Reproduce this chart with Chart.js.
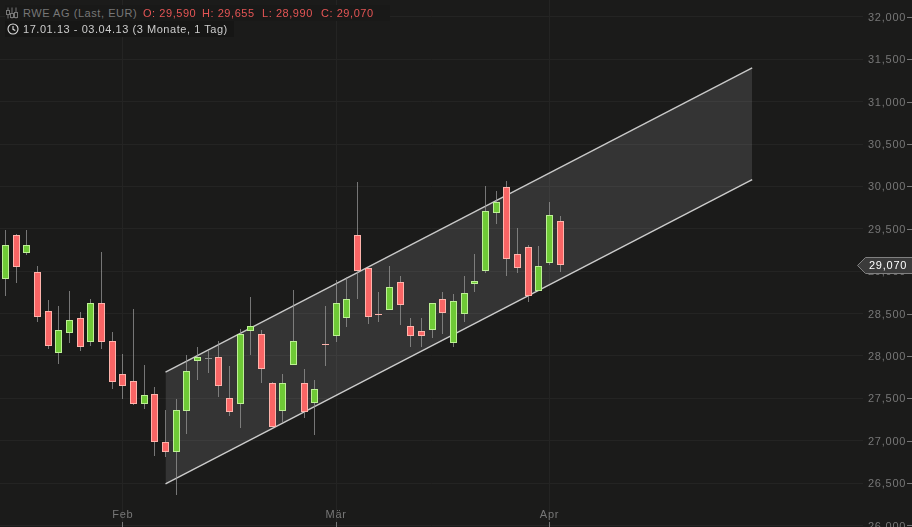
<!DOCTYPE html>
<html>
<head>
<meta charset="utf-8">
<title>RWE AG</title>
<script src="https://cdn.jsdelivr.net/npm/chart.js@4"></script>
<style>
    html, body { margin: 0; padding: 0; background: #1b1b1a; overflow: hidden; }
    #wrap { position: relative; width: 912px; height: 527px; }
    canvas { display: block; }
    .hdr { position: absolute; font: 11px "Liberation Sans", Arial, sans-serif; letter-spacing: 0.55px; line-height: 14px; white-space: nowrap; }
    .name { color: #777; }
    .ohlc { color: #e55555; }
    .range { color: #ccc; }
    #rangeBg { position: absolute; left: 5px; top: 21px; width: 229px; height: 16px; background: #161615; }
    #nameBg { position: absolute; left: 5px; top: 5px; width: 385px; height: 16px; background: #191918; }
    svg { position: absolute; }
</style>
</head>
<body>
<div id="wrap">
    <canvas id="rweChart" width="912" height="527"></canvas>
    <div id="nameBg"></div>
    <div id="rangeBg"></div>
    <svg style="left:6px;top:7px" width="12" height="12" viewBox="0 0 12 12" fill="none" stroke="#777" stroke-width="1">
        <path d="M2 0.5V11.5M6 0.5V11.5M10 0.5V11.5"/>
        <rect x="0.5" y="3.5" width="3" height="4" fill="#191918"/>
        <rect x="4.5" y="6.5" width="3" height="4" fill="#191918"/>
        <rect x="8.5" y="5.5" width="3" height="5" fill="#191918"/>
    </svg>
    <span class="hdr name" style="left:23px;top:6px">RWE AG (Last, EUR)</span>
    <span class="hdr ohlc" style="left:143px;top:6px">O: 29,590</span>
    <span class="hdr ohlc" style="left:202px;top:6px">H: 29,655</span>
    <span class="hdr ohlc" style="left:262px;top:6px">L: 28,990</span>
    <span class="hdr ohlc" style="left:321px;top:6px">C: 29,070</span>
    <svg style="left:7px;top:23px" width="12" height="12" viewBox="0 0 12 12" fill="none" stroke="#ddd" stroke-width="1.1">
        <circle cx="6" cy="6" r="5"/>
        <path d="M6 3V6.3L8.3 7.5"/>
    </svg>
    <span class="hdr range" style="left:23px;top:22px">17.01.13 - 03.04.13 (3 Monate, 1 Tag)</span>
</div>

<script>
// candles (EUR)
const opens = [
    28.910, 29.425, 29.220, 28.985, 28.525, 28.040, 28.275, 28.445, 28.170, 28.620,
    28.175, 27.785, 27.700, 27.430, 27.550, 26.980, 26.870, 27.345, 27.945, 27.960,
    27.985, 27.500, 27.430, 28.290, 28.255, 27.680, 27.345, 27.890, 27.680, 27.440,
    28.140, 28.230, 28.445, 29.425, 29.035, 28.495, 28.540, 28.870, 28.350, 28.290,
    28.305, 28.670, 28.150, 28.490, 28.845, 29.000, 29.685, 29.990, 29.200, 29.280,
    28.765, 29.095, 29.590
];
const closes = [
    29.305, 29.055, 29.305, 28.465, 28.120, 28.305, 28.420, 28.100, 28.620, 28.170,
    27.695, 27.640, 27.430, 27.535, 26.990, 26.870, 27.360, 27.820, 27.985, 27.960,
    27.650, 27.335, 28.255, 28.350, 27.845, 27.165, 27.680, 28.175, 27.335, 27.605,
    28.130, 28.620, 28.670, 29.000, 28.455, 28.480, 28.810, 28.600, 28.230, 28.230,
    28.620, 28.505, 28.645, 28.740, 28.880, 29.705, 29.815, 29.140, 29.035, 28.710,
    29.060, 29.660, 29.070
];
const highs = [
    29.485, 29.440, 29.485, 29.060, 28.660, 28.585, 28.765, 28.515, 28.670, 29.225,
    28.280, 28.025, 28.550, 27.890, 27.630, 27.365, 27.490, 28.010, 28.100, 28.070,
    28.175, 27.880, 28.315, 28.690, 28.305, 27.690, 27.785, 28.775, 27.845, 27.715,
    28.585, 28.895, 28.930, 30.050, 29.050, 28.755, 29.060, 28.940, 28.445, 28.445,
    28.625, 28.755, 28.730, 28.940, 29.200, 30.000, 29.945, 30.060, 29.505, 29.305,
    29.295, 29.815, 29.655
];
const lows = [
    28.710, 28.860, 29.195, 28.405, 28.080, 27.900, 28.155, 28.060, 28.120, 28.080,
    27.605, 27.490, 27.420, 27.370, 26.815, 26.805, 26.355, 27.075, 27.715, 27.795,
    27.510, 27.290, 27.145, 28.010, 27.680, 27.165, 27.205, 27.890, 27.265, 27.065,
    27.880, 28.170, 28.340, 28.670, 28.375, 28.395, 28.540, 28.360, 28.100, 28.100,
    28.210, 28.255, 28.110, 28.405, 28.750, 28.975, 29.555, 28.940, 28.975, 28.635,
    28.765, 29.070, 28.990
];

// hand drawn trend channel, two anchor points each
const channelX = [15, 70];
const channelUpper = [27.81, 31.40];
const channelLower = [26.49, 30.08];

const priceTicks = [26, 26.5, 27, 27.5, 28, 28.5, 29, 29.5, 30, 30.5, 31, 31.5, 32];
const monthLabels = ['Feb', 'Mär', 'Apr'];
const monthIdx = [11, 31, 51];

const fmt = v => v.toFixed(3).replace('.', ',');
const toXY = (xs, ys) => xs.map((x, i) => ({ x: x, y: ys[i] }));

const bodyFill = i => closes[i] > opens[i] ? '#6fc936' : closes[i] < opens[i] ? '#f96565' : '#8a8a8a';
const bodyEdge = i => closes[i] > opens[i] ? '#bdf095' : closes[i] < opens[i] ? '#ffb3ab' : '#8a8a8a';

// the picture has crisp candles on whole pixels
const snapCandles = {
    id: 'snapCandles',
    afterDatasetsUpdate(chart) {
        chart.data.datasets.forEach((ds, n) => {
            if (ds.type !== 'bar') return;
            chart.getDatasetMeta(n).data.forEach(el => {
                el.x = Math.floor(el.x) + 0.5;
                el.y = Math.round(el.y);
                el.base = Math.round(el.base);
            });
        });
    }
};

// tick dashes at the window edge and the last price tag
const axisMarks = {
    id: 'axisMarks',
    beforeDraw(chart) {
        chart.ctx.letterSpacing = '0.75px';
    },
    afterDraw(chart) {
        const ctx = chart.ctx;
        const yScale = chart.scales.y;
        const xScale = chart.scales.x;
        ctx.save();
        ctx.strokeStyle = '#777';
        ctx.lineWidth = 1;
        ctx.beginPath();
        priceTicks.forEach(p => {
            const y = Math.round(yScale.getPixelForValue(p)) + 0.5;
            ctx.moveTo(907, y);
            ctx.lineTo(912, y);
        });
        monthIdx.forEach(i => {
            const x = Math.floor(xScale.getPixelForValue(i)) + 0.5;
            ctx.moveTo(x, 522);
            ctx.lineTo(x, 527);
        });
        ctx.stroke();

        const last = closes[closes.length - 1];
        const yy = Math.round(yScale.getPixelForValue(last));
        ctx.beginPath();
        ctx.moveTo(857.5, yy + 0.5);
        ctx.lineTo(865.5, yy - 7.5);
        ctx.lineTo(912.5, yy - 7.5);
        ctx.lineTo(912.5, yy + 8.5);
        ctx.lineTo(865.5, yy + 8.5);
        ctx.closePath();
        ctx.fillStyle = '#3a3a3a';
        ctx.fill();
        ctx.strokeStyle = '#808080';
        ctx.stroke();
        ctx.fillStyle = '#fff';
        ctx.font = '11px "Liberation Sans"';
        ctx.textBaseline = 'middle';
        ctx.textAlign = 'left';
        ctx.fillText(fmt(last), 869, yy + 1);
        ctx.restore();
    }
};

// no room reserved for labels, the plot runs to the window edges
const noPadding = scale => {
    scale.paddingTop = scale.paddingBottom = scale.paddingLeft = scale.paddingRight = 0;
};

Chart.defaults.font.family = '"Liberation Sans", Arial, sans-serif';
Chart.defaults.font.size = 11;

new Chart(document.getElementById('rweChart'), {
    data: {
        datasets: [
            {
                type: 'line',
                label: 'Trend oben',
                data: toXY(channelX, channelUpper),
                borderColor: '#c9c9c9',
                borderWidth: 1.4,
                pointRadius: 0,
                tension: 0,
                fill: { target: '+1', above: 'rgba(255,255,255,0.115)', below: 'rgba(255,255,255,0.115)' },
                order: 3
            },
            {
                type: 'line',
                label: 'Trend unten',
                data: toXY(channelX, channelLower),
                borderColor: '#c9c9c9',
                borderWidth: 1.4,
                pointRadius: 0,
                tension: 0,
                fill: false,
                order: 3
            },
            {
                type: 'bar',
                label: 'High/Low',
                data: lows.map((l, i) => ({ x: i, y: [l, highs[i]] })),
                backgroundColor: 'rgba(150,150,150,0.75)',
                borderWidth: 0,
                inflateAmount: 0,
                barThickness: 1,
                grouped: false,
                order: 2
            },
            {
                type: 'bar',
                label: 'RWE AG',
                data: opens.map((o, i) => ({ x: i, y: [o, closes[i]] })),
                backgroundColor: ctx => bodyFill(ctx.dataIndex),
                borderColor: ctx => bodyEdge(ctx.dataIndex),
                borderWidth: 1,
                borderSkipped: false,
                inflateAmount: 0,
                barThickness: 7,
                minBarLength: 1,
                grouped: false,
                order: 1
            }
        ]
    },
    options: {
        responsive: false,
        animation: false,
        layout: { padding: 0, autoPadding: false },
        scales: {
            x: {
                type: 'linear',
                position: 'bottom',
                offset: false,
                min: -0.5156,
                max: 80.39,
                afterFit: scale => { scale.height = 0; noPadding(scale); },
                afterBuildTicks: scale => { scale.ticks = monthIdx.map(v => ({ value: v })); },
                grid: { color: '#242423', drawTicks: false, offset: false },
                border: { display: false },
                ticks: {
                    autoSkip: false,
                    maxRotation: 0,
                    mirror: true,
                    padding: 5,
                    color: '#777',
                    callback: v => monthLabels[monthIdx.indexOf(v)]
                }
            },
            y: {
                type: 'linear',
                position: 'right',
                min: 25.982,
                max: 32.2,
                afterFit: scale => { scale.width = 49; noPadding(scale); },
                afterBuildTicks: scale => { scale.ticks = priceTicks.map(v => ({ value: v })); },
                grid: { color: '#242423', drawTicks: false },
                border: { display: false },
                ticks: {
                    autoSkip: false,
                    padding: 5,
                    labelOffset: 1,
                    color: '#777',
                    callback: v => fmt(v)
                }
            }
        },
        plugins: {
            legend: { display: false },
            tooltip: { enabled: false }
        }
    },
    plugins: [snapCandles, axisMarks]
});
</script>
</body>
</html>
